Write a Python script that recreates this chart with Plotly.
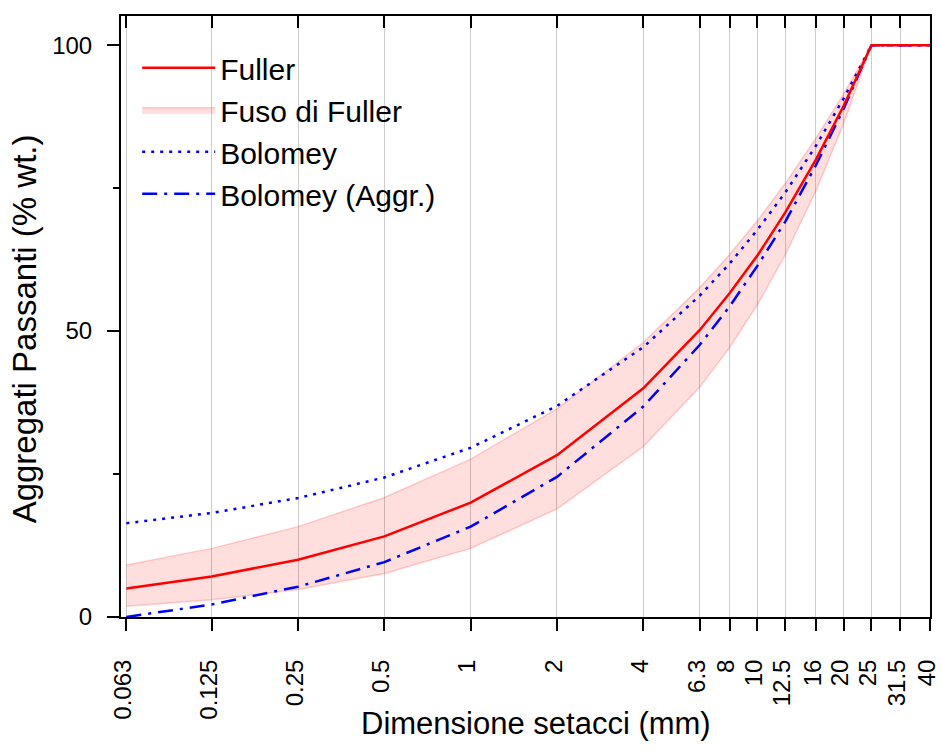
import plotly.graph_objects as go

# Sieve openings (mm) and passing percentages
sieves = [0.063, 0.125, 0.25, 0.5, 1, 2, 4, 6.3, 8, 10, 12.5, 16, 20, 25, 31.5, 40]
sieve_labels = ["0.063", "0.125", "0.25", "0.5", "1", "2", "4", "6.3", "8", "10",
                "12.5", "16", "20", "25", "31.5", "40"]

fuller = [5.0, 7.1, 10.0, 14.1, 20.0, 28.3, 40.0, 50.2, 56.6, 63.2, 70.7, 80.0, 89.4, 100, 100, 100]
fuso_upper = [9.1, 12.0, 15.8, 20.9, 27.6, 36.4, 48.0, 57.6, 63.4, 69.3, 75.8, 83.7, 91.5, 100, 100, 100]
fuso_lower = [1.9, 3.0, 4.8, 7.6, 12.0, 18.9, 29.8, 40.2, 47.1, 54.6, 63.3, 74.5, 86.3, 100, 100, 100]
bolomey = [16.4, 18.2, 20.8, 24.4, 29.6, 36.9, 47.2, 56.2, 61.8, 67.7, 74.2, 82.4, 90.7, 100, 100, 100]
bolomey_aggr = [0.0, 2.2, 5.3, 9.6, 15.8, 24.5, 36.8, 47.6, 54.3, 61.4, 69.1, 79.0, 88.9, 100, 100, 100]

x_title = "Dimensione setacci (mm)"
y_title = "Aggregati Passanti (% wt.)"

FONT = "Liberation Sans, Arial, sans-serif"
x_range = [-1.2195, 1.6021]

fig = go.Figure()

# Fuller envelope (band)
fig.add_trace(go.Scatter(
    x=sieves, y=fuso_lower, mode="lines",
    line=dict(color="rgba(255,0,0,0.18)", width=1.5),
    showlegend=False, hoverinfo="skip"))
fig.add_trace(go.Scatter(
    x=sieves, y=fuso_upper, mode="lines", name="Fuso di Fuller",
    fill="tonexty", fillcolor="rgba(255,0,0,0.13)",
    line=dict(color="rgba(255,0,0,0.18)", width=1.5),
    legendrank=2))

fig.add_trace(go.Scatter(
    x=sieves, y=bolomey, mode="lines", name="Bolomey",
    line=dict(color="#0000FF", width=2.5, dash="3px,6px"),
    legendrank=3))
fig.add_trace(go.Scatter(
    x=sieves, y=bolomey_aggr, mode="lines", name="Bolomey (Aggr.)",
    line=dict(color="#0000FF", width=2.5, dash="15px,7px,3px,7px"),
    legendrank=4))
fig.add_trace(go.Scatter(
    x=sieves, y=fuller, mode="lines", name="Fuller",
    line=dict(color="#FF0000", width=2.5),
    legendrank=1))

# Invisible trace so the top (inner-tick) axis is drawn
fig.add_trace(go.Scatter(x=[sieves[0]], y=[0], xaxis="x2", mode="markers",
                         marker=dict(opacity=0), showlegend=False, hoverinfo="skip"))

fig.update_layout(
    width=941, height=752, autosize=False,
    margin=dict(l=121, r=11, t=16, b=135),
    paper_bgcolor="white", plot_bgcolor="white",
    font=dict(family=FONT, color="black", size=24),
    xaxis=dict(
        type="log", range=x_range, automargin=False,
        tickmode="array", tickvals=sieves, ticktext=sieve_labels,
        tickangle=-90, tickfont=dict(size=24),
        ticklabelstandoff=19, ticklabelshift=-3, ticklabeloverflow="allow",
        ticks="outside", ticklen=12, tickwidth=2, tickcolor="black",
        showline=True, linewidth=2, linecolor="black",
        showgrid=True, gridcolor="#cccccc", gridwidth=1,
        zeroline=False,
    ),
    xaxis2=dict(
        type="log", range=x_range, overlaying="x", side="top", anchor="y",
        automargin=False,
        tickmode="array", tickvals=sieves, showticklabels=False,
        ticks="inside", ticklen=12, tickwidth=2, tickcolor="black",
        showline=True, linewidth=2, linecolor="black",
        showgrid=False, zeroline=False,
    ),
    yaxis=dict(
        range=[0, 105.1], automargin=False,
        tickmode="array", tickvals=[0, 50, 100],
        ticks="outside", ticklen=12, tickwidth=2, tickcolor="black",
        minor=dict(dtick=25, tick0=0, ticks="outside", ticklen=6, tickwidth=2, tickcolor="black"),
        ticklabelstandoff=10,
        showline=True, linewidth=2, linecolor="black", mirror=True,
        showgrid=False, zeroline=False,
    ),
    legend=dict(
        x=0.02, y=0.957, xanchor="left", yanchor="top",
        bgcolor="rgba(0,0,0,0)", borderwidth=0,
        font=dict(size=30, family=FONT), itemwidth=73,
        traceorder="normal", tracegroupgap=0,
    ),
    showlegend=True,
    annotations=[
        dict(text=x_title, xref="paper", yref="paper", x=0.5126, y=-0.178,
             xanchor="center", yanchor="middle", showarrow=False,
             font=dict(size=31, family=FONT, color="black")),
        dict(text=y_title, xref="paper", yref="paper", x=-0.1196, y=0.479,
             xanchor="center", yanchor="middle", showarrow=False, textangle=-90,
             font=dict(size=33, family=FONT, color="black")),
    ],
)

fig.write_html("out.html")
